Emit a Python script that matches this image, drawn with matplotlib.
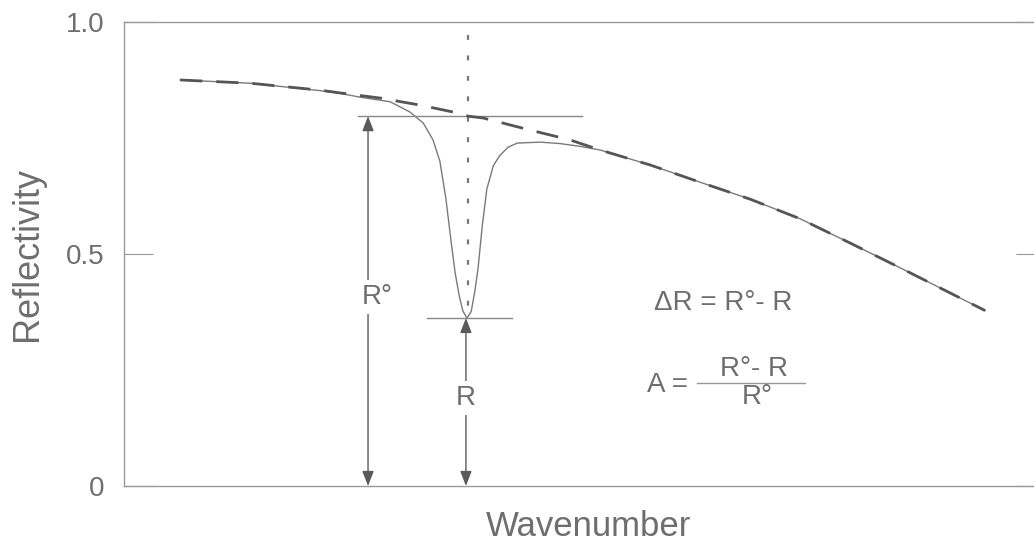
import numpy as np
import matplotlib.pyplot as plt

plt.rcParams['font.family'] = ['Liberation Sans', 'DejaVu Sans']

# wavenumber in arbitrary units (0..100 across the axes)
base_x = [6.1, 13.7, 21.3, 23.5, 27.8, 32.1, 36.2, 37.35, 39.0, 44.1, 48.4, 51.7, 57.1, 62.5, 68.0, 73.4, 78.8, 84.3, 89.7, 93.5]
base_r = [0.875, 0.868, 0.853, 0.847, 0.836, 0.821, 0.804, 0.797, 0.793, 0.767, 0.746, 0.724, 0.692, 0.655, 0.618, 0.576, 0.524, 0.470, 0.416, 0.378]

spec_x = [6.1, 13.7, 21.3, 23.5, 25.6, 28.9, 31.05, 32.5, 33.55, 34.3, 34.95, 35.5, 35.95, 36.4, 36.8, 37.24, 37.7, 38.1, 38.45, 38.9,
          39.4, 40.1, 40.8, 41.7, 42.7, 45.2, 47.3, 49.5, 51.7, 57.1, 62.5, 68.0, 73.4, 78.8, 84.3, 89.7, 93.5]
spec_r = [0.875, 0.868, 0.852, 0.846, 0.838, 0.828, 0.806, 0.782, 0.746, 0.700, 0.620, 0.530, 0.460, 0.410, 0.377, 0.362, 0.376, 0.420, 0.470, 0.560,
          0.640, 0.690, 0.712, 0.730, 0.739, 0.741, 0.738, 0.732, 0.724, 0.692, 0.655, 0.618, 0.576, 0.524, 0.470, 0.416, 0.378]

yticks = [0, 0.5, 1.0]
ytick_labels = ['0', '0.5', '1.0']

r0 = 0.797      # reflectivity of the baseline at the band centre
r_min = 0.362   # reflectivity at the band minimum
x_band = 37.35  # band centre
x_r0 = 26.5     # position of the R° arrow
x_r = 37.13     # position of the R arrow

text_grey = '#6e6e6e'

fig = plt.figure(figsize=(10.34, 5.45), dpi=100)
ax = fig.add_axes([0.1199, 0.1083, 0.8907, 0.8514])

ax.plot(base_x, base_r, color='#555555', lw=2.0, dashes=(8, 5), zorder=3)
ax.plot(spec_x, spec_r, color='#7a7a7a', lw=1.0, zorder=2)

# reference levels and band centre
ax.plot([25.4, 49.7], [r0, r0], color='#888888', lw=1.0)
ax.plot([32.9, 42.1], [r_min, r_min], color='#888888', lw=1.0)
ax.plot([x_band, x_band], [0.972, r_min], color='#777777', lw=1.6, dashes=(2.2, 7))

arrow = dict(arrowstyle='<|-|>,head_length=0.9,head_width=0.35', color='#5a5a5a', lw=1.0,
             shrinkA=0, shrinkB=0)
ax.annotate('', xy=(x_r0, r0), xytext=(x_r0, 0), arrowprops=arrow)
ax.annotate('', xy=(x_r, r_min), xytext=(x_r, 0), arrowprops=arrow)

box = dict(facecolor='white', edgecolor='none', pad=3)
ax.text(x_r0 + 0.95, 0.407, 'R°', fontsize=20, color=text_grey, ha='center', va='center', bbox=box, zorder=5)
ax.text(x_r, 0.19, 'R', fontsize=20, color=text_grey, ha='center', va='center', bbox=box, zorder=5)

ax.text(65.1, 0.394, 'ΔR = R°- R', fontsize=20, color=text_grey, ha='center', va='center')
ax.text(59.0, 0.218, 'A =', fontsize=20, color=text_grey, ha='center', va='center')
ax.text(68.4, 0.252, 'R°- R', fontsize=20, color=text_grey, ha='center', va='center')
ax.plot([62.2, 73.9], [0.222, 0.222], color='#999999', lw=1.0)
ax.text(68.8, 0.192, 'R°', fontsize=20, color=text_grey, ha='center', va='center')

ax.set_xlim(0, 100)
ax.set_ylim(0, 1.0)
ax.set_xticks([])
ax.set_yticks(yticks)
ax.set_yticklabels(ytick_labels)
ax.tick_params(axis='y', direction='in', length=21, width=0.8, color='#999999',
               labelcolor=text_grey, labelsize=20, pad=14, right=True)

ax.spines['right'].set_visible(False)
for s in ('left', 'top', 'bottom'):
    ax.spines[s].set_color('#999999')
    ax.spines[s].set_linewidth(1.0)

fig.text(28 / 1034, 1 - 254 / 545, 'Reflectivity', fontsize=26, color=text_grey,
         rotation=90, ha='center', va='center')
fig.text(589 / 1034, 1 - 526 / 545, 'Wavenumber', fontsize=25, color=text_grey,
         ha='center', va='center')

fig.savefig('out.png', dpi=100)
